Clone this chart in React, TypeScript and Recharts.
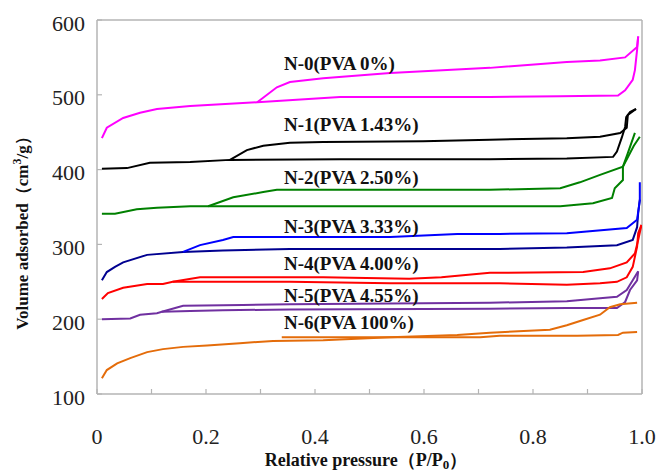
import React from 'react';
import { LineChart, Line, XAxis, YAxis, ReferenceLine, ReferenceDot } from 'recharts';

// x ticks (P/P0) and their labels
const xTicks = [0, 0.1, 0.2, 0.3, 0.4, 0.5, 0.6, 0.7, 0.8, 0.9, 1.0];
const xTickLabels = ['0', '', '0.2', '', '0.4', '', '0.6', '', '0.8', '', '1.0'];
const yTicks = [100, 200, 300, 400, 500, 600];

// N-0 (PVA 0%)
const n0Ads = [
  { p: 0.009, v: 442 }, { p: 0.018, v: 456 }, { p: 0.048, v: 469 }, { p: 0.079, v: 476 },
  { p: 0.11, v: 481 }, { p: 0.171, v: 485 }, { p: 0.294, v: 490 }, { p: 0.446, v: 497 },
  { p: 0.721, v: 497 }, { p: 0.85, v: 498 }, { p: 0.956, v: 499 }, { p: 0.969, v: 506 },
  { p: 0.983, v: 520 }, { p: 0.987, v: 533 }, { p: 0.991, v: 560 }, { p: 0.993, v: 578 },
];
const n0Des = [
  { p: 0.294, v: 490 }, { p: 0.33, v: 510 }, { p: 0.354, v: 517 }, { p: 0.415, v: 522 },
  { p: 0.538, v: 529 }, { p: 0.721, v: 536 }, { p: 0.862, v: 544 }, { p: 0.923, v: 546 },
  { p: 0.969, v: 550 }, { p: 0.991, v: 564 }, { p: 0.993, v: 578 },
];
// N-1 (PVA 1.43%)
const n1Ads = [
  { p: 0.009, v: 401 }, { p: 0.055, v: 402 }, { p: 0.097, v: 409 }, { p: 0.171, v: 410 },
  { p: 0.244, v: 413 }, { p: 0.446, v: 414 }, { p: 0.721, v: 414 }, { p: 0.862, v: 415 },
  { p: 0.947, v: 417 }, { p: 0.954, v: 424 }, { p: 0.963, v: 443 }, { p: 0.969, v: 457 },
  { p: 0.971, v: 470 }, { p: 0.978, v: 477 }, { p: 0.989, v: 481 },
];
const n1Des = [
  { p: 0.244, v: 413 }, { p: 0.275, v: 426 }, { p: 0.305, v: 432 }, { p: 0.354, v: 436 },
  { p: 0.415, v: 437 }, { p: 0.598, v: 438 }, { p: 0.721, v: 440 }, { p: 0.862, v: 442 },
  { p: 0.923, v: 444 }, { p: 0.96, v: 449 }, { p: 0.972, v: 456 }, { p: 0.974, v: 473 },
  { p: 0.989, v: 481 },
];
// N-2 (PVA 2.50%)
const n2Ads = [
  { p: 0.009, v: 341 }, { p: 0.033, v: 341 }, { p: 0.073, v: 347 }, { p: 0.11, v: 349 },
  { p: 0.171, v: 351 }, { p: 0.204, v: 351 }, { p: 0.446, v: 351 }, { p: 0.721, v: 351 },
  { p: 0.85, v: 351 }, { p: 0.91, v: 355 }, { p: 0.945, v: 362 }, { p: 0.95, v: 375 },
  { p: 0.965, v: 386 }, { p: 0.965, v: 404 }, { p: 0.974, v: 422 }, { p: 0.987, v: 449 },
];
const n2Des = [
  { p: 0.204, v: 351 }, { p: 0.25, v: 363 }, { p: 0.305, v: 370 }, { p: 0.33, v: 373 },
  { p: 0.721, v: 373 }, { p: 0.85, v: 375 }, { p: 0.886, v: 383 }, { p: 0.923, v: 393 },
  { p: 0.965, v: 404 }, { p: 0.985, v: 432 }, { p: 0.996, v: 444 },
];
// N-3 (PVA 3.33%)
const n3Ads = [
  { p: 0.009, v: 252 }, { p: 0.018, v: 263 }, { p: 0.033, v: 270 }, { p: 0.048, v: 276 },
  { p: 0.092, v: 286 }, { p: 0.158, v: 290 }, { p: 0.231, v: 292 }, { p: 0.354, v: 294 },
  { p: 0.739, v: 294 }, { p: 0.862, v: 296 }, { p: 0.954, v: 299 }, { p: 0.983, v: 306 },
  { p: 0.991, v: 323 }, { p: 0.993, v: 342 }, { p: 0.996, v: 360 },
];
const n3Des = [
  { p: 0.158, v: 290 }, { p: 0.189, v: 299 }, { p: 0.231, v: 306 }, { p: 0.25, v: 310 },
  { p: 0.538, v: 310 }, { p: 0.661, v: 314 }, { p: 0.739, v: 314 }, { p: 0.862, v: 315 },
  { p: 0.972, v: 322 }, { p: 0.991, v: 333 }, { p: 0.996, v: 359 }, { p: 0.996, v: 383 },
];
// N-4 (PVA 4.00%)
const n4Ads = [
  { p: 0.009, v: 227 }, { p: 0.02, v: 235 }, { p: 0.048, v: 242 }, { p: 0.092, v: 247 },
  { p: 0.121, v: 247 }, { p: 0.139, v: 250 }, { p: 0.189, v: 250 }, { p: 0.354, v: 250 },
  { p: 0.538, v: 248 }, { p: 0.739, v: 248 }, { p: 0.862, v: 246 }, { p: 0.923, v: 248 },
  { p: 0.954, v: 250 }, { p: 0.972, v: 256 }, { p: 0.983, v: 270 }, { p: 0.991, v: 297 },
  { p: 0.993, v: 315 }, { p: 0.999, v: 326 },
];
const n4Des = [
  { p: 0.139, v: 250 }, { p: 0.189, v: 256 }, { p: 0.415, v: 256 }, { p: 0.573, v: 254 },
  { p: 0.632, v: 256 }, { p: 0.721, v: 262 }, { p: 0.892, v: 263 }, { p: 0.941, v: 268 },
  { p: 0.972, v: 276 }, { p: 0.987, v: 288 }, { p: 0.993, v: 306 }, { p: 0.999, v: 326 },
];
// N-5 (PVA 4.55%)
const n5Ads = [
  { p: 0.009, v: 200 }, { p: 0.061, v: 201 }, { p: 0.079, v: 206 }, { p: 0.11, v: 208 },
  { p: 0.119, v: 210 }, { p: 0.171, v: 211 }, { p: 0.231, v: 212 }, { p: 0.354, v: 213 },
  { p: 0.721, v: 214 }, { p: 0.862, v: 215 }, { p: 0.954, v: 215 }, { p: 0.969, v: 223 },
  { p: 0.978, v: 239 }, { p: 0.991, v: 252 }, { p: 0.993, v: 264 },
];
const n5Des = [
  { p: 0.119, v: 210 }, { p: 0.158, v: 218 }, { p: 0.268, v: 219 }, { p: 0.354, v: 220 },
  { p: 0.721, v: 222 }, { p: 0.862, v: 224 }, { p: 0.923, v: 228 }, { p: 0.954, v: 230 },
  { p: 0.972, v: 239 }, { p: 0.983, v: 252 }, { p: 0.993, v: 264 },
];
// N-6 (PVA 100%)
const n6Ads = [
  { p: 0.009, v: 121 }, { p: 0.018, v: 132 }, { p: 0.037, v: 141 }, { p: 0.061, v: 148 },
  { p: 0.092, v: 156 }, { p: 0.121, v: 160 }, { p: 0.158, v: 163 }, { p: 0.202, v: 165 },
  { p: 0.262, v: 168 }, { p: 0.323, v: 171 }, { p: 0.415, v: 172 }, { p: 0.538, v: 176 },
  { p: 0.661, v: 179 }, { p: 0.721, v: 182 }, { p: 0.831, v: 186 }, { p: 0.862, v: 192 },
  { p: 0.892, v: 199 }, { p: 0.923, v: 206 }, { p: 0.941, v: 216 }, { p: 0.96, v: 220 },
  { p: 0.991, v: 222 },
];
const n6Des = [
  { p: 0.339, v: 176 }, { p: 0.415, v: 176 }, { p: 0.703, v: 176 }, { p: 0.739, v: 178 },
  { p: 0.881, v: 178 }, { p: 0.956, v: 179 }, { p: 0.965, v: 182 }, { p: 0.991, v: 183 },
];

const seriesNames = [
  'N-0(PVA 0%)', 'N-1(PVA 1.43%)', 'N-2(PVA 2.50%)', 'N-3(PVA 3.33%)',
  'N-4(PVA 4.00%)', 'N-5(PVA 4.55%)', 'N-6(PVA 100%)',
];
const labelP = [0.343, 0.343, 0.343, 0.343, 0.343, 0.343, 0.343];
const labelV = [533, 451, 381, 315, 266, 223, 187];

const branches = [
  { key: 'n0a', data: n0Ads, color: '#FF00FF' },
  { key: 'n0d', data: n0Des, color: '#FF00FF' },
  { key: 'n1a', data: n1Ads, color: '#000000' },
  { key: 'n1d', data: n1Des, color: '#000000' },
  { key: 'n2a', data: n2Ads, color: '#008000' },
  { key: 'n2d', data: n2Des, color: '#008000' },
  { key: 'n3a', data: n3Ads, color: '#000090' },
  { key: 'n3d', data: n3Des, color: '#0000FF' },
  { key: 'n4a', data: n4Ads, color: '#FF0000' },
  { key: 'n4d', data: n4Des, color: '#FF0000' },
  { key: 'n5a', data: n5Ads, color: '#7030A0' },
  { key: 'n5d', data: n5Des, color: '#7030A0' },
  { key: 'n6a', data: n6Ads, color: '#E46C0A' },
  { key: 'n6d', data: n6Des, color: '#E46C0A' },
];

const SERIF = '"Liberation Serif", "Times New Roman", serif';
const AXIS_GRAY = '#B4B4B4';

const XTick = (props: any) => {
  const { x, y, payload } = props;
  const i = xTicks.indexOf(payload.value);
  const label = i >= 0 ? xTickLabels[i] : '';
  return (
    <g>
      <line x1={x} y1={y} x2={x} y2={y - 5} stroke={AXIS_GRAY} strokeWidth={1.2} />
      {label ? (
        <text x={x} y={y + 50} textAnchor="middle" fontFamily={SERIF} fontSize={22} fill="#222">
          {label}
        </text>
      ) : null}
    </g>
  );
};

const YTick = (props: any) => {
  const { x, y, payload } = props;
  return (
    <g>
      <line x1={x} y1={y} x2={x + 5} y2={y} stroke={AXIS_GRAY} strokeWidth={1.2} />
      <text x={x - 12} y={y + 10.5} textAnchor="end" fontFamily={SERIF} fontSize={22} fill="#222">
        {payload.value}
      </text>
    </g>
  );
};

export default function App() {
  return (
    <div style={{ width: 656, height: 474, position: 'relative', background: '#fff' }}>
      <style>{'body{margin:0;overflow:hidden;background:#fff}'}</style>
      <LineChart width={656} height={474} margin={{ top: 20, right: 14, left: 8, bottom: 0 }}>
        <XAxis
          type="number"
          dataKey="p"
          domain={[0, 1]}
          ticks={xTicks}
          tick={<XTick />}
          tickSize={0}
          tickMargin={0}
          tickLine={false}
          height={80}
          axisLine={{ stroke: AXIS_GRAY, strokeWidth: 1.5 }}
          allowDataOverflow
        />
        <YAxis
          type="number"
          domain={[100, 600]}
          ticks={yTicks}
          tick={<YTick />}
          tickSize={0}
          tickMargin={0}
          tickLine={false}
          width={89}
          axisLine={{ stroke: AXIS_GRAY, strokeWidth: 1.5 }}
          allowDataOverflow
        />
        <ReferenceLine y={600} stroke={AXIS_GRAY} strokeWidth={1.5} />
        <ReferenceLine x={1} stroke={AXIS_GRAY} strokeWidth={1.5} />
        {branches.map((b) => (
          <Line
            key={b.key}
            data={b.data}
            dataKey="v"
            type="linear"
            stroke={b.color}
            strokeWidth={2}
            dot={false}
            activeDot={false}
            isAnimationActive={false}
          />
        ))}
        {seriesNames.map((name, i) => (
          <ReferenceDot
            key={name}
            x={labelP[i]}
            y={labelV[i]}
            r={0}
            shape={(p: any) => (
              <text
                x={p.cx}
                y={p.cy}
                fontFamily={SERIF}
                fontWeight="bold"
                fontSize={19}
                fill="#111"
              >
                {name}
              </text>
            )}
          />
        ))}
      </LineChart>
      <svg
        width={656}
        height={474}
        style={{ position: 'absolute', left: 0, top: 0, pointerEvents: 'none' }}
      >
        <text
          x={366}
          y={466}
          textAnchor="middle"
          fontFamily={SERIF}
          fontWeight="bold"
          fontSize={18}
          fill="#111"
        >
          Relative pressure（P/P<tspan fontSize={13} dy={3}>0</tspan>
          <tspan dy={-3}>）</tspan>
        </text>
        <text
          transform="translate(28,229) rotate(-90)"
          textAnchor="middle"
          fontFamily={SERIF}
          fontWeight="bold"
          fontSize={17}
          fill="#111"
        >
          Volume adsorbed（cm<tspan fontSize={12} dy={-7}>3</tspan>
          <tspan dy={7}>/g）</tspan>
        </text>
      </svg>
    </div>
  );
}
